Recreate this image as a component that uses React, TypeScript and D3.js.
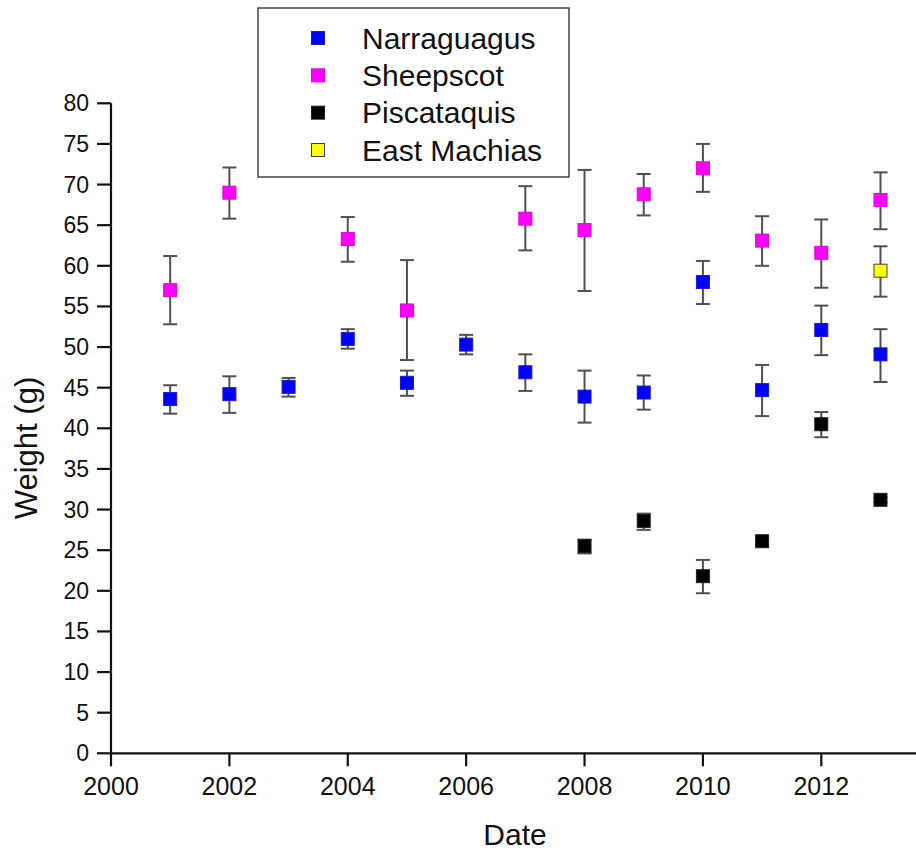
import React, { useEffect, useRef } from 'react';
import * as d3 from 'd3';

// years sampled
const narraYears = [2001, 2002, 2003, 2004, 2005, 2006, 2007, 2008, 2009, 2010, 2011, 2012, 2013];
const narraMean = [43.6, 44.2, 45.1, 51.0, 45.6, 50.3, 46.9, 43.9, 44.4, 58.0, 44.7, 52.1, 49.1];
const narraLow = [41.8, 41.9, 43.9, 49.8, 44.0, 49.1, 44.6, 40.7, 42.3, 55.3, 41.5, 49.0, 45.7];
const narraHigh = [45.3, 46.4, 46.2, 52.2, 47.1, 51.5, 49.1, 47.1, 46.5, 60.6, 47.8, 55.1, 52.2];

const sheepYears = [2001, 2002, 2004, 2005, 2007, 2008, 2009, 2010, 2011, 2012, 2013];
const sheepMean = [57.0, 69.0, 63.3, 54.5, 65.8, 64.4, 68.8, 72.0, 63.1, 61.6, 68.1];
const sheepLow = [52.8, 65.8, 60.5, 48.4, 61.9, 56.9, 66.2, 69.1, 60.0, 57.3, 64.5];
const sheepHigh = [61.2, 72.1, 66.0, 60.7, 69.8, 71.8, 71.3, 75.0, 66.1, 65.7, 71.5];

const piscYears = [2008, 2009, 2010, 2011, 2012, 2013];
const piscMean = [25.5, 28.6, 21.8, 26.1, 40.5, 31.2];
const piscLow = [24.6, 27.5, 19.7, 25.6, 38.9, 30.9];
const piscHigh = [26.3, 29.5, 23.8, 26.6, 42.0, 31.5];

const machiasYears = [2013];
const machiasMean = [59.4];
const machiasLow = [56.2];
const machiasHigh = [62.4];

const yTicks = [0, 5, 10, 15, 20, 25, 30, 35, 40, 45, 50, 55, 60, 65, 70, 75, 80];
const xTicks = [2000, 2002, 2004, 2006, 2008, 2010, 2012];

const series = [
  { name: 'Narraguagus', fill: '#0000ff', stroke: '#1a1acc', years: narraYears, mean: narraMean, low: narraLow, high: narraHigh },
  { name: 'Sheepscot', fill: '#ff00ff', stroke: '#e000e0', years: sheepYears, mean: sheepMean, low: sheepLow, high: sheepHigh },
  { name: 'Piscataquis', fill: '#000000', stroke: '#222222', years: piscYears, mean: piscMean, low: piscLow, high: piscHigh },
  { name: 'East Machias', fill: '#ffff00', stroke: '#444444', years: machiasYears, mean: machiasMean, low: machiasLow, high: machiasHigh },
];

const W = 916;
const H = 854;

const App = () => {
  const svgRef = useRef(null);

  useEffect(() => {
    const svg = d3.select(svgRef.current);
    svg.selectAll('*').remove();

    const x = d3.scaleLinear().domain([2000, 2013.6]).range([111, 916]);
    const y = d3.scaleLinear().domain([0, 80]).range([753.3, 103.3]);
    const font = 'Arial, "Liberation Sans", sans-serif';

    // axes
    const axis = svg.append('g').attr('stroke', '#111').attr('stroke-width', 2.2);
    axis.append('line').attr('x1', x(2000)).attr('x2', W).attr('y1', y(0)).attr('y2', y(0));
    axis.append('line').attr('x1', x(2000)).attr('x2', x(2000)).attr('y1', y(0)).attr('y2', y(80));
    axis.selectAll('line.yt').data(yTicks).join('line')
      .attr('class', 'yt')
      .attr('x1', x(2000) - 14).attr('x2', x(2000))
      .attr('y1', d => y(d)).attr('y2', d => y(d));
    axis.selectAll('line.xt').data(xTicks).join('line')
      .attr('class', 'xt')
      .attr('x1', d => x(d)).attr('x2', d => x(d))
      .attr('y1', y(0)).attr('y2', y(0) + 13);

    svg.append('g').selectAll('text').data(yTicks).join('text')
      .attr('x', 89).attr('y', d => y(d)).attr('dy', '0.35em')
      .attr('text-anchor', 'end')
      .style('font-family', font).style('font-size', '23px').style('fill', '#111')
      .text(d => d);

    svg.append('g').selectAll('text').data(xTicks).join('text')
      .attr('x', d => x(d)).attr('y', 795)
      .attr('text-anchor', 'middle')
      .style('font-family', font).style('font-size', '25px').style('fill', '#111')
      .text(d => d);

    svg.append('text')
      .attr('x', 515).attr('y', 845).attr('text-anchor', 'middle')
      .style('font-family', font).style('font-size', '30px').style('fill', '#111')
      .text('Date');

    svg.append('text')
      .attr('transform', 'translate(37,448) rotate(-90)')
      .attr('text-anchor', 'middle')
      .style('font-family', font).style('font-size', '31px').style('fill', '#111')
      .text('Weight (g)');

    // error bars then markers
    const cap = 7;
    const ms = 13;
    series.forEach(s => {
      const pts = s.years.map((yr, i) => ({ yr, m: s.mean[i], lo: s.low[i], hi: s.high[i] }));
      const eb = svg.append('g').attr('stroke', '#505050').attr('stroke-width', 2);
      eb.selectAll('line.v').data(pts).join('line').attr('class', 'v')
        .attr('x1', d => x(d.yr)).attr('x2', d => x(d.yr))
        .attr('y1', d => y(d.lo)).attr('y2', d => y(d.hi));
      eb.selectAll('line.t').data(pts).join('line').attr('class', 't')
        .attr('x1', d => x(d.yr) - cap).attr('x2', d => x(d.yr) + cap)
        .attr('y1', d => y(d.hi)).attr('y2', d => y(d.hi));
      eb.selectAll('line.b').data(pts).join('line').attr('class', 'b')
        .attr('x1', d => x(d.yr) - cap).attr('x2', d => x(d.yr) + cap)
        .attr('y1', d => y(d.lo)).attr('y2', d => y(d.lo));
      svg.append('g').selectAll('rect').data(pts).join('rect')
        .attr('x', d => x(d.yr) - ms / 2).attr('y', d => y(d.m) - ms / 2)
        .attr('width', ms).attr('height', ms)
        .attr('fill', s.fill).attr('stroke', s.stroke).attr('stroke-width', 1);
    });

    // legend
    const lg = svg.append('g');
    lg.append('rect').attr('x', 258).attr('y', 8).attr('width', 311).attr('height', 169)
      .attr('fill', '#fff').attr('stroke', '#444').attr('stroke-width', 1.5);
    const rowY = d3.scalePoint().domain(series.map(s => s.name)).range([38, 150]);
    series.forEach(s => {
      lg.append('rect')
        .attr('x', 318 - 6.5).attr('y', rowY(s.name) - 6.5).attr('width', 13).attr('height', 13)
        .attr('fill', s.fill).attr('stroke', s.stroke).attr('stroke-width', 1);
      lg.append('text')
        .attr('x', 362).attr('y', rowY(s.name)).attr('dy', '0.36em')
        .style('font-family', font).style('font-size', '30px').style('fill', '#111')
        .text(s.name);
    });
  }, []);

  return (
    <svg ref={svgRef} width={W} height={H}
      style={{ position: 'absolute', left: 0, top: 0, background: '#fff' }} />
  );
};

export default App;
